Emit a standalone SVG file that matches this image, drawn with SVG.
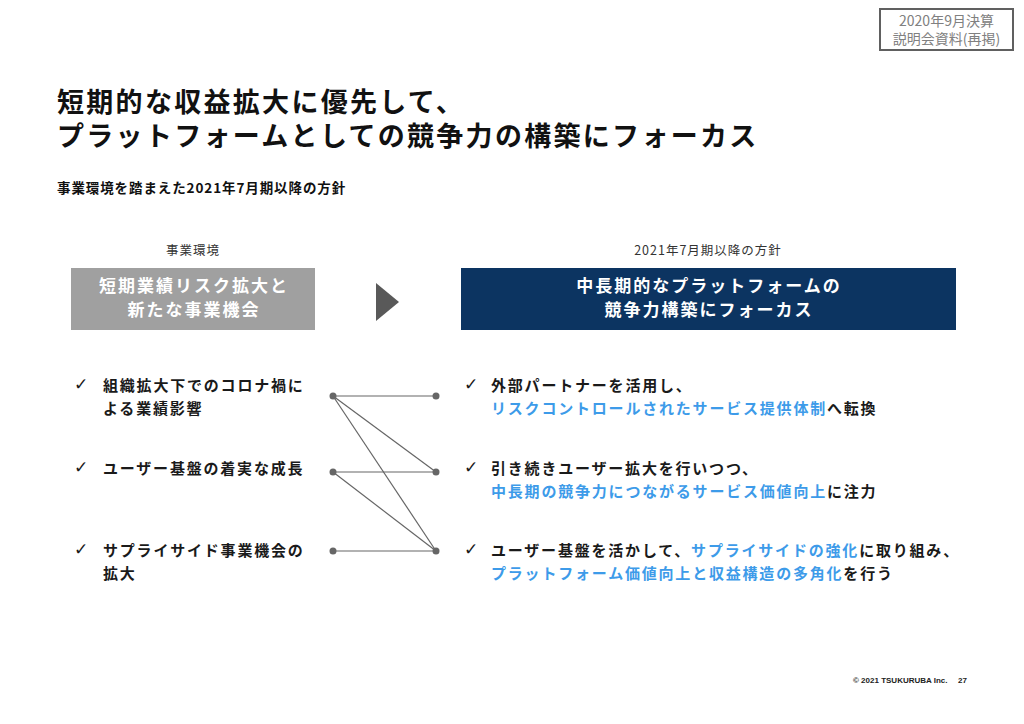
<svg xmlns="http://www.w3.org/2000/svg" width="1024" height="724" viewBox="0 0 1024 724">
<style>
text{font-family:"Noto Sans CJK JP","Noto Sans",sans-serif;}
.title{font-size:27px;font-weight:bold;fill:#111;letter-spacing:2.3px;}
.sub{font-size:13.5px;font-weight:bold;fill:#111;letter-spacing:0.9px;}
.lab{font-size:12.5px;fill:#333;letter-spacing:1px;}
.box{font-size:17px;font-weight:bold;fill:#fff;letter-spacing:2px;}
.item{font-size:15px;font-weight:bold;fill:#1a1a1a;letter-spacing:1.8px;}
.hl{fill:#3d9be9;}
.chk{font-family:"DejaVu Sans",sans-serif;font-size:17px;fill:#1a1a1a;}
.conn line{stroke:#666;stroke-width:1.2;}
.dot{fill:#666;}
</style>
<rect width="1024" height="724" fill="#fff"/>
<g id="doc-tag">
<rect x="880" y="9" width="133" height="41" fill="#fff" stroke="#606060" stroke-width="2"/>
<text x="946.5" y="26" text-anchor="middle" style="font-size:14px;fill:#808080">2020年9月決算</text>
<text x="946.5" y="44" text-anchor="middle" style="font-size:14px;fill:#808080">説明会資料(再掲)</text>
</g>
<g id="title">
<text class="title" x="57" y="112">短期的な収益拡大に優先して、<tspan x="57" dy="34">プラットフォームとしての競争力の構築にフォーカス</tspan></text>
</g>
<text id="subtitle" class="sub" x="57" y="193">事業環境を踏まえた2021年7月期以降の方針</text>
<g id="left-header">
<text class="lab" x="193" y="255" text-anchor="middle">事業環境</text>
<rect x="71" y="268" width="244" height="62" fill="#a0a0a0"/>
<text class="box" x="194" y="292" text-anchor="middle">短期業績リスク拡大と</text>
<text class="box" x="194" y="316" text-anchor="middle">新たな事業機会</text>
</g>
<g id="arrow">
<polygon points="376,283 399,302 376,321" fill="#595959"/>
</g>
<g id="right-header">
<text class="lab" x="708" y="255" text-anchor="middle">2021年7月期以降の方針</text>
<rect x="461" y="268" width="495" height="62" fill="#0c3461"/>
<text class="box" x="709" y="292" text-anchor="middle">中長期的なプラットフォームの</text>
<text class="box" x="709" y="316" text-anchor="middle">競争力構築にフォーカス</text>
</g>
<g id="left-items">
<g id="l1"><text class="chk" x="74" y="390">✓</text><text class="item" x="103" y="391">組織拡大下でのコロナ禍に</text><text class="item" x="103" y="414">よる業績影響</text></g>
<g id="l2"><text class="chk" x="74" y="473">✓</text><text class="item" x="103" y="474">ユーザー基盤の着実な成長</text></g>
<g id="l3"><text class="chk" x="74" y="555">✓</text><text class="item" x="103" y="556">サプライサイド事業機会の</text><text class="item" x="103" y="579">拡大</text></g>
</g>
<g id="connectors" class="conn">
<line x1="333" y1="396" x2="436" y2="396"/>
<line x1="333" y1="396" x2="436" y2="472"/>
<line x1="333" y1="396" x2="436" y2="551"/>
<line x1="333" y1="472" x2="436" y2="472"/>
<line x1="333" y1="472" x2="436" y2="551"/>
<line x1="333" y1="551" x2="436" y2="551"/>
<circle class="dot" cx="333" cy="396" r="3.5"/>
<circle class="dot" cx="333" cy="472" r="3.5"/>
<circle class="dot" cx="333" cy="551" r="3.5"/>
<circle class="dot" cx="436" cy="396" r="3.5"/>
<circle class="dot" cx="436" cy="472" r="3.5"/>
<circle class="dot" cx="436" cy="551" r="3.5"/>
</g>
<g id="right-items">
<g id="r1"><text class="chk" x="464" y="390">✓</text><text class="item" x="491" y="391">外部パートナーを活用し、</text><text class="item" x="491" y="414"><tspan class="hl">リスクコントロールされたサービス提供体制</tspan>へ転換</text></g>
<g id="r2"><text class="chk" x="464" y="473">✓</text><text class="item" x="491" y="474">引き続きユーザー拡大を行いつつ、</text><text class="item" x="491" y="497"><tspan class="hl">中長期の競争力につながるサービス価値向上</tspan>に注力</text></g>
<g id="r3"><text class="chk" x="464" y="555">✓</text><text class="item" x="491" y="556">ユーザー基盤を活かして、<tspan class="hl">サプライサイドの強化</tspan>に取り組み、</text><text class="item" x="491" y="579"><tspan class="hl">プラットフォーム価値向上と収益構造の多角化</tspan>を行う</text></g>
</g>
<g id="footer">
<text x="853" y="683" style="font-family:'Liberation Sans',sans-serif;font-size:8px;font-weight:bold;fill:#222">© 2021 TSUKURUBA Inc.</text>
<text x="958" y="683" style="font-family:'Liberation Sans',sans-serif;font-size:8px;font-weight:bold;fill:#222">27</text>
</g>
</svg>
